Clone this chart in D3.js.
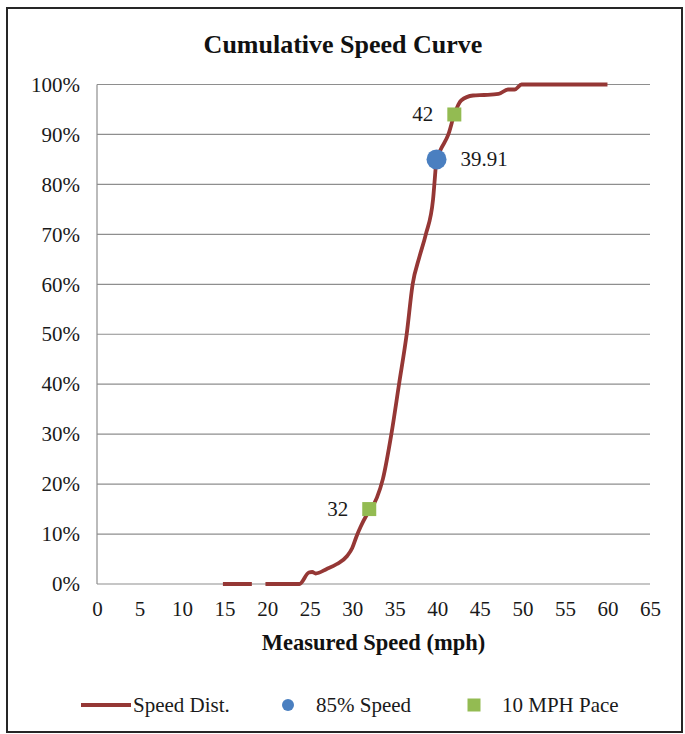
<!DOCTYPE html>
<html>
<head>
<meta charset="utf-8">
<script src="https://cdn.jsdelivr.net/npm/d3@7"></script>
<style>
  html, body { margin: 0; padding: 0; background: #ffffff; }
  svg { display: block; }
</style>
</head>
<body>
<svg id="chart" width="685" height="734"></svg>
<script>
// ---- data ----
const speedValues = [14.8, 16, 17, 18.2, 19, 19.8, 21, 22, 23, 23.8, 24.9, 25.3, 25.7, 27.0, 28.2, 29.4, 30.0, 30.5, 31.0, 31.6, 32.2, 32.9, 33.6, 34.6, 35.5, 36.4, 37.1, 37.9, 38.65, 39.5, 39.7, 39.91, 40.4, 41.3, 42.0, 42.8, 44.2, 45.5, 47.2, 48.3, 49.1, 49.9, 55, 60];
const cumulativePct = [0, 0, 0, 0, null, 0, 0, 0, 0, 0, 2.3, 2.4, 2.1, 3.0, 4.0, 5.6, 7.2, 9.5, 11.5, 13.5, 15.0, 17.3, 21, 30, 40, 50, 60, 65.5, 70, 77, 81, 85, 87, 90, 94, 96.8, 97.8, 97.9, 98.1, 99, 99, 100, 100, 100];
const speed85 = [39.91];
const pct85 = [85];
const paceSpeeds = [32, 42];
const pacePct = [15, 94];
const xTickValues = [0, 5, 10, 15, 20, 25, 30, 35, 40, 45, 50, 55, 60, 65];
const yTickValues = [0, 10, 20, 30, 40, 50, 60, 70, 80, 90, 100];
const legendLabels = ["Speed Dist.", "85% Speed", "10 MPH Pace"];
const titleText = "Cumulative Speed Curve";
const xTitleText = "Measured Speed (mph)";

// ---- layout ----
const svg = d3.select("#chart");
const font = "'Liberation Serif', 'Times New Roman', serif";
const lineColor = "#953735";
const dotColor = "#4a7fc0";
const squareColor = "#93bb52";
const gridColor = "#8e8e8e";

const x = d3.scaleLinear().domain([0, 65]).range([97, 650]);
const y = d3.scaleLinear().domain([0, 100]).range([584, 84.5]);

// outer frame
svg.append("rect")
  .attr("x", 7).attr("y", 8).attr("width", 675).attr("height", 724)
  .attr("fill", "#fff").attr("stroke", "#262626").attr("stroke-width", 2);

// title
svg.append("text")
  .attr("x", 343).attr("y", 53)
  .attr("text-anchor", "middle")
  .attr("font-family", font).attr("font-weight", "bold").attr("font-size", 26)
  .attr("fill", "#111")
  .text(titleText);

// gridlines
svg.append("g").selectAll("line").data(yTickValues).join("line")
  .attr("x1", x(0)).attr("x2", x(65))
  .attr("y1", d => y(d)).attr("y2", d => y(d))
  .attr("stroke", gridColor).attr("stroke-width", 1.2);

// left axis line
svg.append("line")
  .attr("x1", x(0)).attr("x2", x(0))
  .attr("y1", y(100)).attr("y2", y(0))
  .attr("stroke", gridColor).attr("stroke-width", 1.2);

// y axis labels
const yAxis = d3.axisLeft(y).tickValues(yTickValues).tickFormat(d => d + "%").tickSize(0).tickPadding(17);
const gy = svg.append("g").attr("transform", `translate(${x(0)},0)`).call(yAxis);
gy.select(".domain").remove();
gy.selectAll("text").attr("font-family", font).attr("font-size", 21).attr("fill", "#1a1a1a");

// x axis labels
const xAxis = d3.axisBottom(x).tickValues(xTickValues).tickFormat(d3.format("d")).tickSize(0).tickPadding(17);
const gx = svg.append("g").attr("transform", `translate(0,${y(0)})`).call(xAxis);
gx.select(".domain").remove();
gx.selectAll("text").attr("font-family", font).attr("font-size", 21).attr("fill", "#1a1a1a");

// x axis title
svg.append("text")
  .attr("x", (x(0) + x(65)) / 2).attr("y", 650)
  .attr("text-anchor", "middle")
  .attr("font-family", font).attr("font-weight", "bold").attr("font-size", 22.5)
  .attr("fill", "#111")
  .text(xTitleText);

// speed distribution curve
const curveData = speedValues.map((s, i) => ({ s, p: cumulativePct[i] }));
const line = d3.line()
  .defined(d => d.p !== null)
  .x(d => x(d.s)).y(d => y(d.p))
  .curve(d3.curveMonotoneX);
svg.append("path")
  .datum(curveData)
  .attr("d", line)
  .attr("fill", "none").attr("stroke", lineColor).attr("stroke-width", 3.8)
  .attr("stroke-linejoin", "round");

// 85% speed point
const p85 = speed85.map((s, i) => ({ s, p: pct85[i] }));
svg.append("g").selectAll("circle").data(p85).join("circle")
  .attr("cx", d => x(d.s)).attr("cy", d => y(d.p)).attr("r", 10)
  .attr("fill", dotColor);
svg.append("g").selectAll("text").data(p85).join("text")
  .attr("x", d => x(d.s) + 24).attr("y", d => y(d.p) + 7)
  .attr("font-family", font).attr("font-size", 21).attr("fill", "#1a1a1a")
  .text(d => d3.format(".2f")(d.s));

// pace points
const pace = paceSpeeds.map((s, i) => ({ s, p: pacePct[i] }));
svg.append("g").selectAll("rect").data(pace).join("rect")
  .attr("x", d => x(d.s) - 7).attr("y", d => y(d.p) - 7)
  .attr("width", 14).attr("height", 14)
  .attr("fill", squareColor);
svg.append("g").selectAll("text").data(pace).join("text")
  .attr("x", d => x(d.s) - 21).attr("y", d => y(d.p) + 7)
  .attr("text-anchor", "end")
  .attr("font-family", font).attr("font-size", 21).attr("fill", "#1a1a1a")
  .text(d => d.s);

// legend
const lg = svg.append("g");
const ly = 705;
lg.append("line").attr("x1", 81).attr("x2", 131).attr("y1", ly).attr("y2", ly)
  .attr("stroke", lineColor).attr("stroke-width", 4);
lg.append("circle").attr("cx", 288).attr("cy", ly).attr("r", 6).attr("fill", dotColor);
lg.append("rect").attr("x", 467.5).attr("y", ly - 6.5).attr("width", 13).attr("height", 13).attr("fill", squareColor);
const legendX = [133, 316, 502];
lg.selectAll("text").data(legendLabels).join("text")
  .attr("x", (d, i) => legendX[i]).attr("y", 712)
  .attr("font-family", font).attr("font-size", 21).attr("fill", "#1a1a1a")
  .text(d => d);
</script>
</body>
</html>
